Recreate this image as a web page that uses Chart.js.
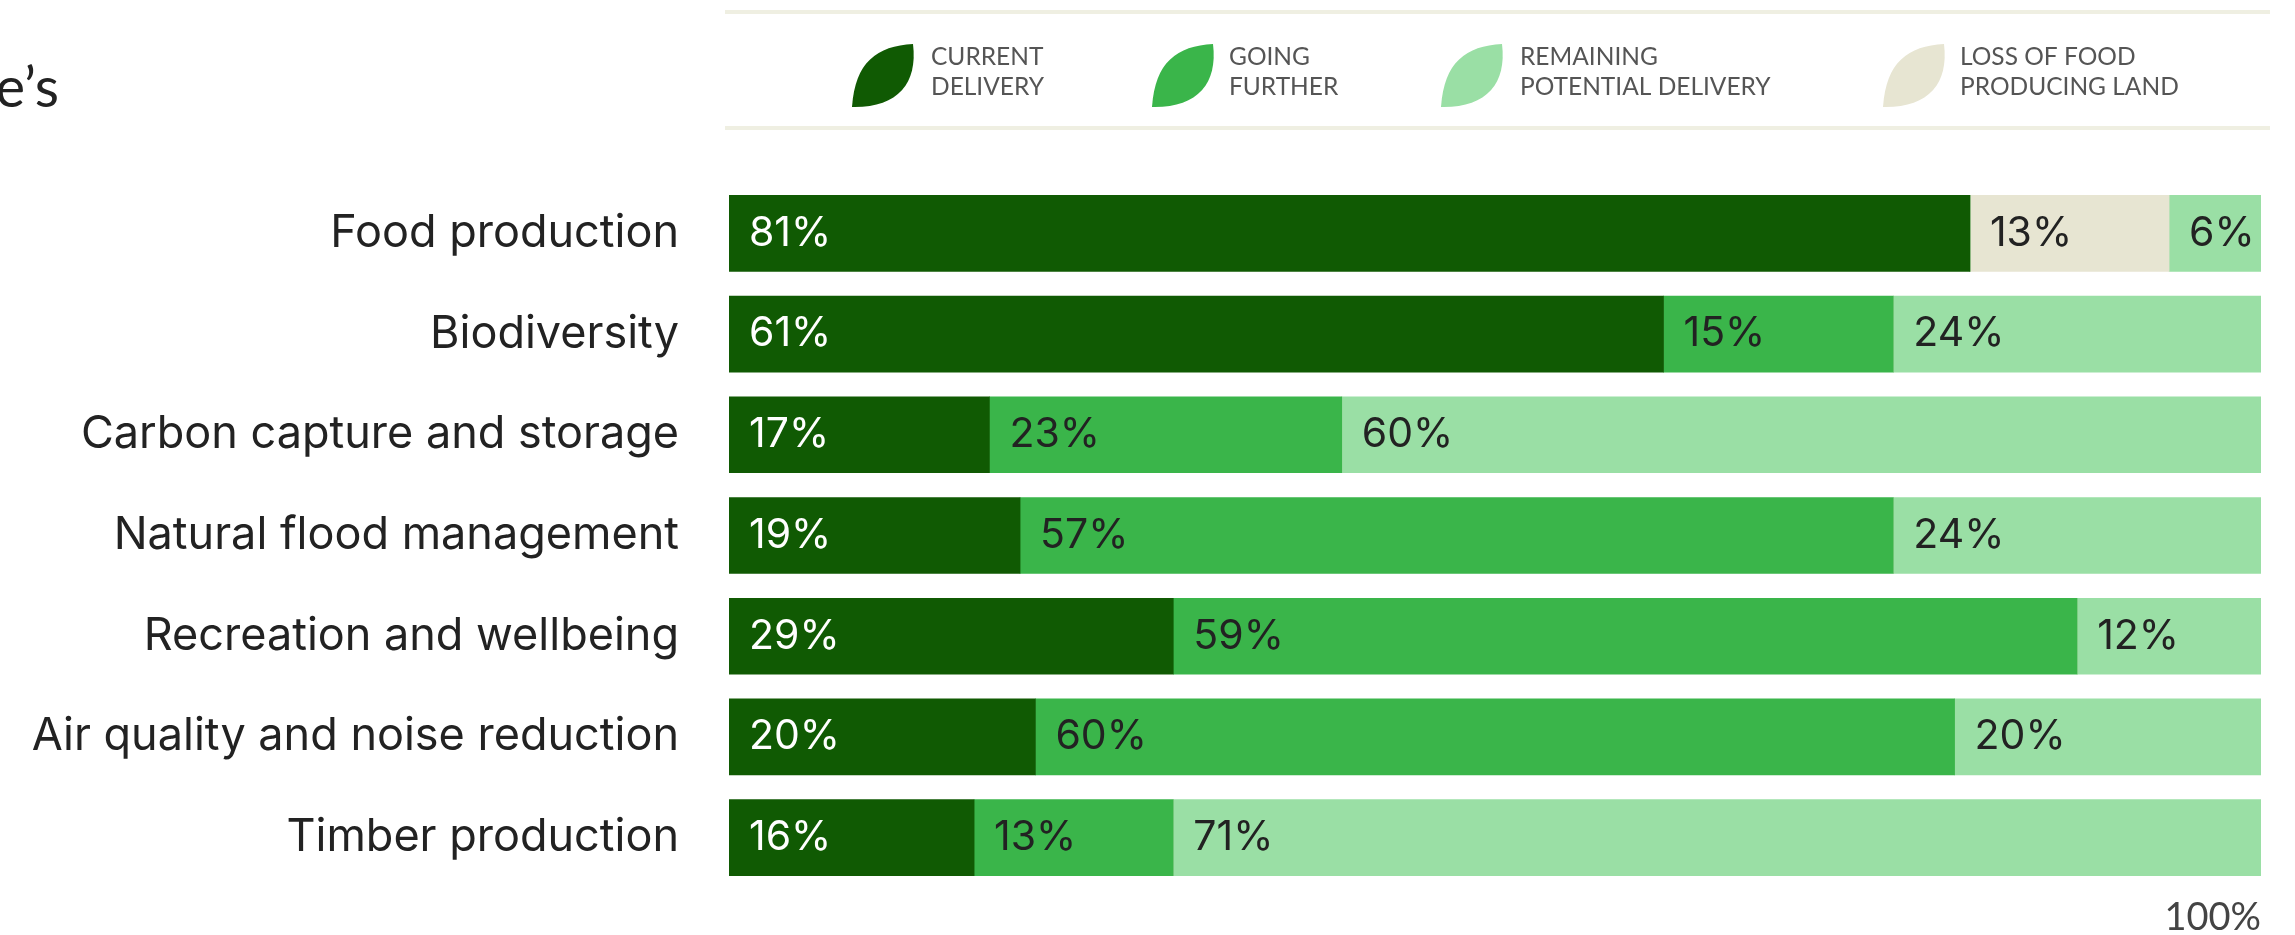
<!DOCTYPE html>
<html>
<head>
<meta charset="utf-8">
<title>Delivery of ecosystem services</title>
<script src="https://cdn.jsdelivr.net/npm/chart.js@4/dist/chart.umd.min.js"></script>
<style>
  html, body { margin: 0; padding: 0; background: #fff; }
  canvas { display: block; }
</style>
</head>
<body>
<canvas id="services" width="2295" height="935"></canvas>
<script>
const categories = ['Food production', 'Biodiversity', 'Carbon capture and storage', 'Natural flood management',
  'Recreation and wellbeing', 'Air quality and noise reduction', 'Timber production'];
const currentDelivery = [81, 61, 17, 19, 29, 20, 16];
const goingFurther = [0, 15, 23, 57, 59, 60, 13];
const lossOfLand = [13, 0, 0, 0, 0, 0, 0];
const remainingPotential = [6, 24, 60, 24, 12, 20, 71];
const xTickValues = [100];
const xTickLabels = ['100%'];
const legendLabels = [['CURRENT', 'DELIVERY'], ['GOING', 'FURTHER'], ['REMAINING', 'POTENTIAL DELIVERY'], ['LOSS OF FOOD', 'PRODUCING LAND']];
const legendColours = ['#105a03', '#3ab54a', '#9adfa5', '#e7e5d2'];
const legendLeafX = [852, 1152, 1441, 1883];
const legendTextX = [931, 1229, 1520, 1960];

const FONT = 'Inter, sans-serif';

// white on the dark bars, near black on the rest
const barLabels = {
  id: 'barLabels',
  afterDatasetsDraw(chart) {
    const ctx = chart.ctx;
    ctx.save();
    ctx.font = '41px ' + FONT;
    ctx.textAlign = 'left';
    ctx.textBaseline = 'middle';
    chart.data.datasets.forEach((ds, i) => {
      chart.getDatasetMeta(i).data.forEach((bar, j) => {
        if (!ds.data[j]) return;
        ctx.fillStyle = i === 0 ? '#ffffff' : '#222222';
        ctx.fillText(ds.data[j] + '%', bar.base + 20, bar.y);
      });
    });
    ctx.restore();
  }
};

const legendBand = {
  id: 'legendBand',
  afterDraw(chart) {
    const ctx = chart.ctx;
    ctx.save();
    ctx.strokeStyle = '#efefe2';
    ctx.lineWidth = 4;
    [12, 128].forEach(y => {
      ctx.beginPath();
      ctx.moveTo(725, y);
      ctx.lineTo(2270, y);
      ctx.stroke();
    });
    legendLabels.forEach((lines, i) => {
      const x = legendLeafX[i];
      ctx.fillStyle = legendColours[i];
      ctx.beginPath();
      ctx.moveTo(x + 61, 44);
      ctx.bezierCurveTo(x + 25, 46, x + 3, 62, x, 107);
      ctx.bezierCurveTo(x + 45, 108, x + 66, 84, x + 61, 44);
      ctx.fill();
      ctx.fillStyle = '#555555';
      ctx.font = '24.5px Lato, sans-serif';
      ctx.textAlign = 'left';
      ctx.textBaseline = 'middle';
      ctx.fillText(lines[0], legendTextX[i], 57);
      ctx.fillText(lines[1], legendTextX[i], 87);
    });
    // text cut off by the crop, top left
    ctx.fillStyle = '#222222';
    ctx.font = '56px Lato, sans-serif';
    ctx.textAlign = 'right';
    ctx.textBaseline = 'alphabetic';
    ctx.fillText('e\u2019s', 59, 107);
    ctx.restore();
  }
};

new Chart(document.getElementById('services'), {
  type: 'bar',
  data: {
    labels: categories,
    datasets: [
      { label: 'Current delivery', data: currentDelivery, backgroundColor: legendColours[0] },
      { label: 'Going further', data: goingFurther, backgroundColor: legendColours[1] },
      { label: 'Loss of food producing land', data: lossOfLand, backgroundColor: legendColours[3] },
      { label: 'Remaining potential delivery', data: remainingPotential, backgroundColor: legendColours[2] }
    ]
  },
  options: {
    indexAxis: 'y',
    responsive: false,
    animation: false,
    devicePixelRatio: 1,
    layout: { autoPadding: false, padding: { top: 183, right: 34 } },
    datasets: { bar: { barThickness: 76, borderWidth: 0 } },
    scales: {
      x: {
        stacked: true,
        min: 0,
        max: 100,
        grid: { display: false, drawTicks: false },
        border: { display: false },
        afterBuildTicks(axis) { axis.ticks = xTickValues.map(v => ({ value: v })); },
        afterFit(axis) { axis.height = 47; },
        ticks: {
          align: 'end',
          padding: 7,
          autoSkip: false,
          maxRotation: 0,
          color: '#444444',
          font: { family: 'Lato, sans-serif', size: 38 },
          callback: (v) => xTickLabels[xTickValues.indexOf(v)]
        }
      },
      y: {
        stacked: true,
        // tick padding also pads the chart area at the bottom, so the gap comes from tickLength
        grid: { display: false, tickLength: 50 },
        border: { display: false },
        afterFit(axis) { axis.width = 729; },
        ticks: {
          padding: 0,
          autoSkip: false,
          color: '#222222',
          font: { family: FONT, size: 45 }
        }
      }
    },
    plugins: {
      legend: { display: false },
      tooltip: { enabled: false }
    }
  },
  plugins: [barLabels, legendBand]
});
</script>
</body>
</html>
